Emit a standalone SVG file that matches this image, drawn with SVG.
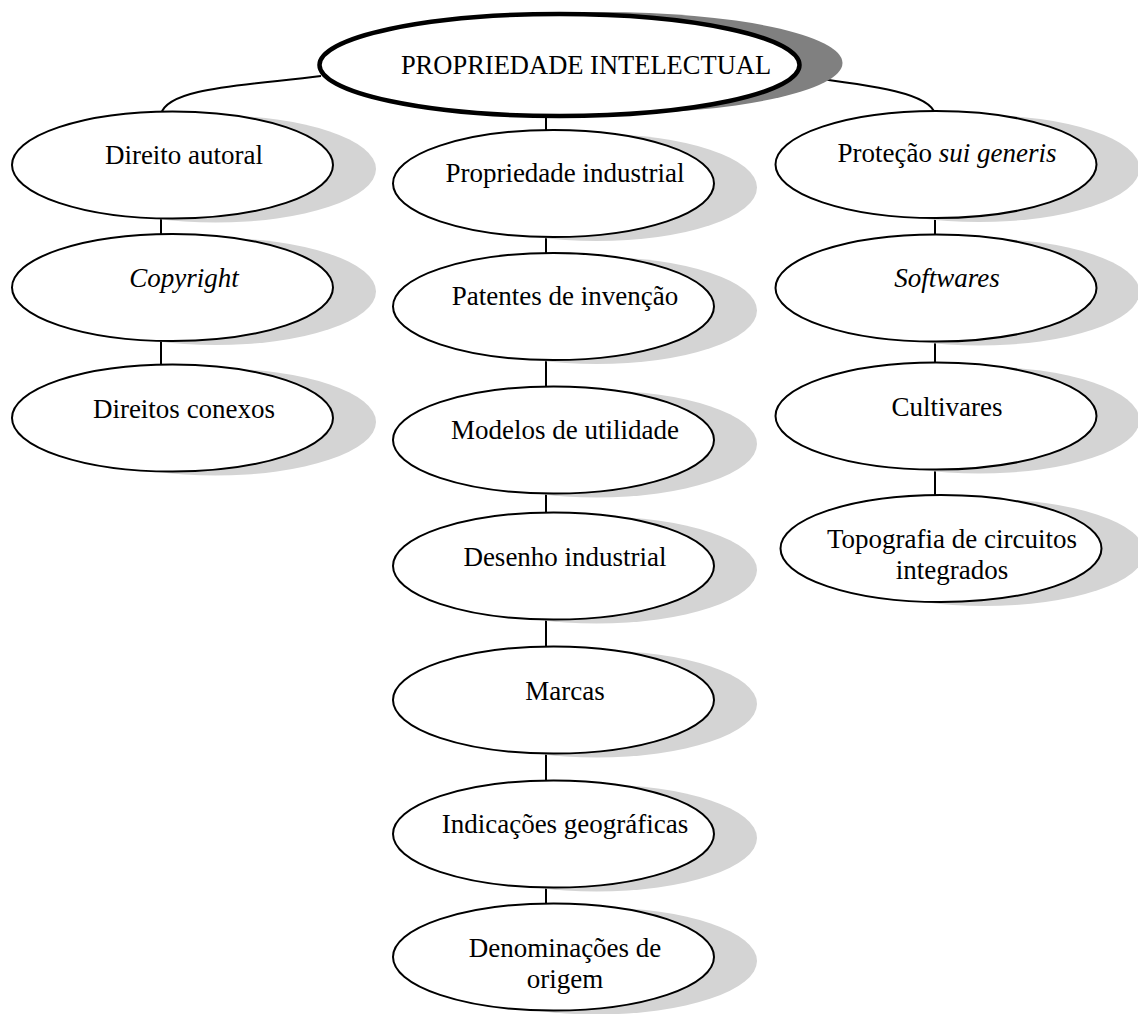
<svg xmlns="http://www.w3.org/2000/svg" width="1138" height="1014" viewBox="0 0 1138 1014">
<style>
.sh{fill:#d4d4d4}
.nd{fill:#fff;stroke:#000;stroke-width:2}
.t{font-family:"Liberation Serif","Times New Roman",serif;font-size:27px;fill:#000;text-anchor:middle}
.tt{font-size:26.5px}
.i{font-style:italic}
.c{fill:none;stroke:#000;stroke-width:2}
</style>
<rect width="1138" height="1014" fill="#fff"/>
<g id="connectors">
<path class="c" d="M 321 76 C 240 86, 168 88, 161 114"/>
<path class="c" d="M 797 76 C 880 86, 930 94, 935 114"/>
<path class="c" d="M546 112 V133"/>
<path class="c" d="M161 214 V237 M161 338 V368"/>
<path class="c" d="M546 233 V256 M546 356 V390 M546 490 V516 M546 616 V650 M546 750 V785 M546 883 V907"/>
<path class="c" d="M935 214 V238 M935 338 V366 M935 466 V499"/>
</g>
<g id="n-top">
<ellipse cx="602.5" cy="63" rx="240" ry="51" fill="#808080"/>
<ellipse cx="559.5" cy="65" rx="240" ry="51" fill="#fff" stroke="#000" stroke-width="4.5"/>
<text class="t tt" x="586" y="74">PROPRIEDADE INTELECTUAL</text>
</g>
<g id="n-direito-autoral">
<ellipse class="sh" cx="215.5" cy="169" rx="160.5" ry="53.5"/>
<ellipse class="nd" cx="172.5" cy="165" rx="160.5" ry="53.5"/>
<text class="t" x="184" y="164">Direito autoral</text>
</g>
<g id="n-copyright">
<ellipse class="sh" cx="215.5" cy="291.5" rx="160.5" ry="53.5"/>
<ellipse class="nd" cx="172.5" cy="287.5" rx="160.5" ry="53.5"/>
<text class="t i" x="184" y="287">Copyright</text>
</g>
<g id="n-direitos-conexos">
<ellipse class="sh" cx="215.5" cy="422" rx="160.5" ry="53.5"/>
<ellipse class="nd" cx="172.5" cy="418" rx="160.5" ry="53.5"/>
<text class="t" x="184" y="418">Direitos conexos</text>
</g>
<g id="n-propriedade-industrial">
<ellipse class="sh" cx="596.5" cy="187.5" rx="160.5" ry="53.5"/>
<ellipse class="nd" cx="553.5" cy="183.5" rx="160.5" ry="53.5"/>
<text class="t" x="565" y="182">Propriedade industrial</text>
</g>
<g id="n-patentes">
<ellipse class="sh" cx="596.5" cy="310.5" rx="160.5" ry="53.5"/>
<ellipse class="nd" cx="553.5" cy="306.5" rx="160.5" ry="53.5"/>
<text class="t" x="565" y="305">Patentes de invenção</text>
</g>
<g id="n-modelos">
<ellipse class="sh" cx="596.5" cy="444" rx="160.5" ry="53.5"/>
<ellipse class="nd" cx="553.5" cy="440" rx="160.5" ry="53.5"/>
<text class="t" x="565" y="439">Modelos de utilidade</text>
</g>
<g id="n-desenho">
<ellipse class="sh" cx="596.5" cy="570" rx="160.5" ry="53.5"/>
<ellipse class="nd" cx="553.5" cy="566" rx="160.5" ry="53.5"/>
<text class="t" x="565" y="566">Desenho industrial</text>
</g>
<g id="n-marcas">
<ellipse class="sh" cx="596.5" cy="704" rx="160.5" ry="53.5"/>
<ellipse class="nd" cx="553.5" cy="700" rx="160.5" ry="53.5"/>
<text class="t" x="565" y="700">Marcas</text>
</g>
<g id="n-indicacoes">
<ellipse class="sh" cx="596.5" cy="838" rx="160.5" ry="53.5"/>
<ellipse class="nd" cx="553.5" cy="834" rx="160.5" ry="53.5"/>
<text class="t" x="565" y="833">Indicações geográficas</text>
</g>
<g id="n-denominacoes">
<ellipse class="sh" cx="596.5" cy="961" rx="160.5" ry="53.5"/>
<ellipse class="nd" cx="553.5" cy="957" rx="160.5" ry="53.5"/>
<text class="t" x="565" y="957">Denominações de</text>
<text class="t" x="565" y="988">origem</text>
</g>
<g id="n-protecao">
<ellipse class="sh" cx="979" cy="168.5" rx="160.5" ry="53.5"/>
<ellipse class="nd" cx="936" cy="164.5" rx="160.5" ry="53.5"/>
<text class="t" x="947" y="162">Proteção <tspan class="i">sui generis</tspan></text>
</g>
<g id="n-softwares">
<ellipse class="sh" cx="979" cy="292" rx="160.5" ry="53.5"/>
<ellipse class="nd" cx="936" cy="288" rx="160.5" ry="53.5"/>
<text class="t i" x="947" y="287">Softwares</text>
</g>
<g id="n-cultivares">
<ellipse class="sh" cx="979" cy="420" rx="160.5" ry="53.5"/>
<ellipse class="nd" cx="936" cy="416" rx="160.5" ry="53.5"/>
<text class="t" x="947" y="416">Cultivares</text>
</g>
<g id="n-topografia">
<ellipse class="sh" cx="984" cy="552.5" rx="160.5" ry="53.5"/>
<ellipse class="nd" cx="941" cy="548.5" rx="160.5" ry="53.5"/>
<text class="t" x="952" y="548">Topografia de circuitos</text>
<text class="t" x="952" y="579">integrados</text>
</g>
</svg>
